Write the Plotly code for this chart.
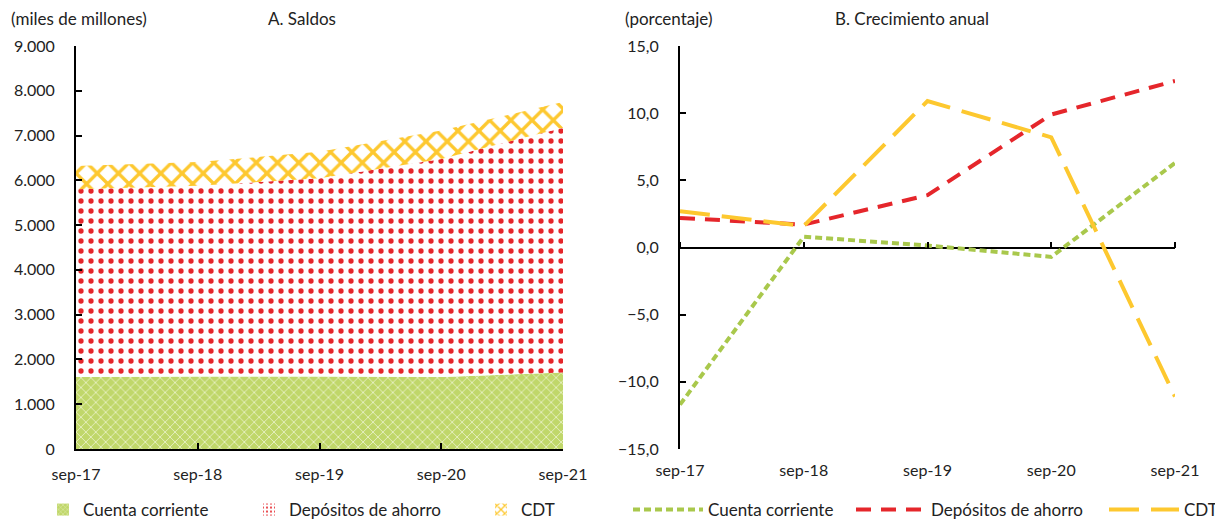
import plotly.graph_objects as go

fechas = ["sep-17", "sep-18", "sep-19", "sep-20", "sep-21"]
# Panel A: saldos (miles de millones)
cuenta_corriente = [1610, 1620, 1620, 1610, 1710]
depositos_ahorro = [4190, 4260, 4426, 4864, 5467]
cdt = [520, 530, 590, 640, 570]
# Panel B: crecimiento anual (porcentaje)
crec_cc = [-11.7, 0.8, 0.15, -0.7, 6.3]
crec_dep = [2.2, 1.7, 3.9, 9.9, 12.4]
crec_cdt = [2.7, 1.6, 10.9, 8.2, -11.1]

GREEN = "#a9c84c"
RED = "#e5262b"
YELLOW = "#fdc82f"
FONT = "Lato"
OFF = 8                      # page body margin
W, H = 1223 - OFF, 521 - OFF  # figure size
top, bottom = 46, 449        # plot area in page pixels

def px(p):
    return (p - OFF) / W

pat_cc = dict(shape="x", bgcolor="#c0d76a", fgcolor="#e6efbf", size=7, solidity=0.25, fgopacity=1)
pat_dep = dict(shape=".", bgcolor="white", fgcolor=RED, size=10, solidity=0.22, fgopacity=1)
pat_cdt = dict(shape="x", bgcolor="white", fgcolor=YELLOW, size=15, solidity=0.4, fgopacity=1)

xs = list(range(len(fechas)))
fig = go.Figure()

for vals, name, pat in [(cuenta_corriente, "Cuenta corriente", pat_cc),
                        (depositos_ahorro, "Depósitos de ahorro", pat_dep),
                        (cdt, "CDT", pat_cdt)]:
    fig.add_trace(go.Scatter(x=xs, y=vals, name=name, stackgroup="a", mode="none",
        fillcolor=pat["bgcolor"], fillpattern=pat, showlegend=False, hoverinfo="x+y+name",
        xaxis="x", yaxis="y"))

# legend entries for panel A (small patterned squares)
for i, (name, pat) in enumerate([("Cuenta corriente", pat_cc),
                                 ("Depósitos de ahorro", pat_dep),
                                 ("CDT", pat_cdt)]):
    fig.add_trace(go.Bar(x=[None], y=[None], name=name,
        marker=dict(color=pat["bgcolor"], line=dict(width=0),
                    pattern=dict(shape=pat["shape"], bgcolor=pat["bgcolor"], fgcolor=pat["fgcolor"],
                                 size=max(4, pat["size"] // 2), solidity=pat["solidity"],
                                 fgopacity=1, fillmode="replace")),
        xaxis="x", yaxis="y", legend="legend" if i == 0 else f"legend{i+1}"))

lines = [(crec_cc, "Cuenta corriente", GREEN, "7px,4px"),
         (crec_dep, "Depósitos de ahorro", RED, "15px,10px"),
         (crec_cdt, "CDT", YELLOW, "30px,12px")]
for i, (vals, name, col, dash) in enumerate(lines):
    fig.add_trace(go.Scatter(x=xs, y=vals, name=name, mode="lines",
        line=dict(color=col, width=4, dash=dash), xaxis="x2", yaxis="y2",
        legend=f"legend{i+4}"))
# overlay axis for tick marks on the zero line
fig.add_trace(go.Scatter(x=[0, 4], y=[None, None], xaxis="x3", yaxis="y2", showlegend=False,
    hoverinfo="skip"))

ax_font = dict(family=FONT, size=16, color="#222")
common_x = dict(tickmode="array", tickvals=xs, ticktext=fechas, range=[0, 4],
                showgrid=False, zeroline=False, tickfont=ax_font)

layout = dict(
    width=W, height=H, paper_bgcolor="white", plot_bgcolor="white",
    margin=dict(l=0, r=0, t=top - OFF, b=H - (bottom - OFF), autoexpand=False),
    separators=",.",
    font=dict(family=FONT, size=16, color="#222"),
    xaxis=dict(domain=[px(76), px(563)], anchor="y", showline=True, linecolor="black",
               linewidth=2, ticks="inside", ticklen=6, tickwidth=2, tickcolor="black",
               ticklabelstandoff=10, **common_x),
    yaxis=dict(domain=[0, 1], anchor="x", range=[0, 9000], dtick=1000, tickformat=",d",
               showline=True, linecolor="black", linewidth=2, ticks="inside", ticklen=6,
               tickwidth=2, tickcolor="black", showgrid=False, zeroline=False, tickfont=ax_font,
               ticklabelstandoff=16),
    xaxis2=dict(domain=[px(680), px(1175)], anchor="y2", showline=False, ticks="",
                ticklabelstandoff=10, **common_x),
    xaxis3=dict(domain=[px(680), px(1175)], overlaying="x2", anchor="free",
                position=0.5, side="top", showline=False,
                ticks="outside", ticklen=6, tickwidth=2, tickcolor="black",
                tickvals=xs, showticklabels=False, range=[0, 4], showgrid=False, zeroline=False),
    yaxis2=dict(domain=[0, 1], anchor="x2", range=[-15, 15], dtick=5, tickformat=".1f",
                showline=True, linecolor="black", linewidth=2, ticks="inside", ticklen=6,
                tickwidth=2, tickcolor="black", showgrid=False, zeroline=True,
                zerolinecolor="black", zerolinewidth=1.5, tickfont=ax_font,
                ticklabelstandoff=16),
    showlegend=True,
    barmode="overlay",
)

leg_y = -(510 - bottom) / (bottom - top)
leg_x = [43, 249, 481, 628, 851, 1223]   # page pixels
for i, lx in enumerate(leg_x):
    key = "legend" if i == 0 else f"legend{i+1}"
    layout[key] = dict(orientation="h", x=px(lx), y=leg_y,
                       xanchor="right" if i == 5 else "left", yanchor="middle",
                       font=dict(family=FONT, size=17, color="#222"),
                       itemwidth=30 if i < 3 else 70, bgcolor="rgba(0,0,0,0)",
                       tracegroupgap=0, itemclick=False, itemdoubleclick=False)
fig.update_layout(**layout)

ann = [
    ("(miles de millones)", 9, 18),
    ("A. Saldos", 266, 18),
    ("(porcentaje)", 623, 18),
    ("B. Crecimiento anual", 833, 18),
]
for text, ax, ay in ann:
    fig.add_annotation(text=text, xref="paper", yref="paper", x=px(ax),
                       y=(bottom - ay) / (bottom - top),
                       xanchor="left", yanchor="middle", showarrow=False,
                       font=dict(family=FONT, size=17, color="#222"))

fig.write_html("out.html")
